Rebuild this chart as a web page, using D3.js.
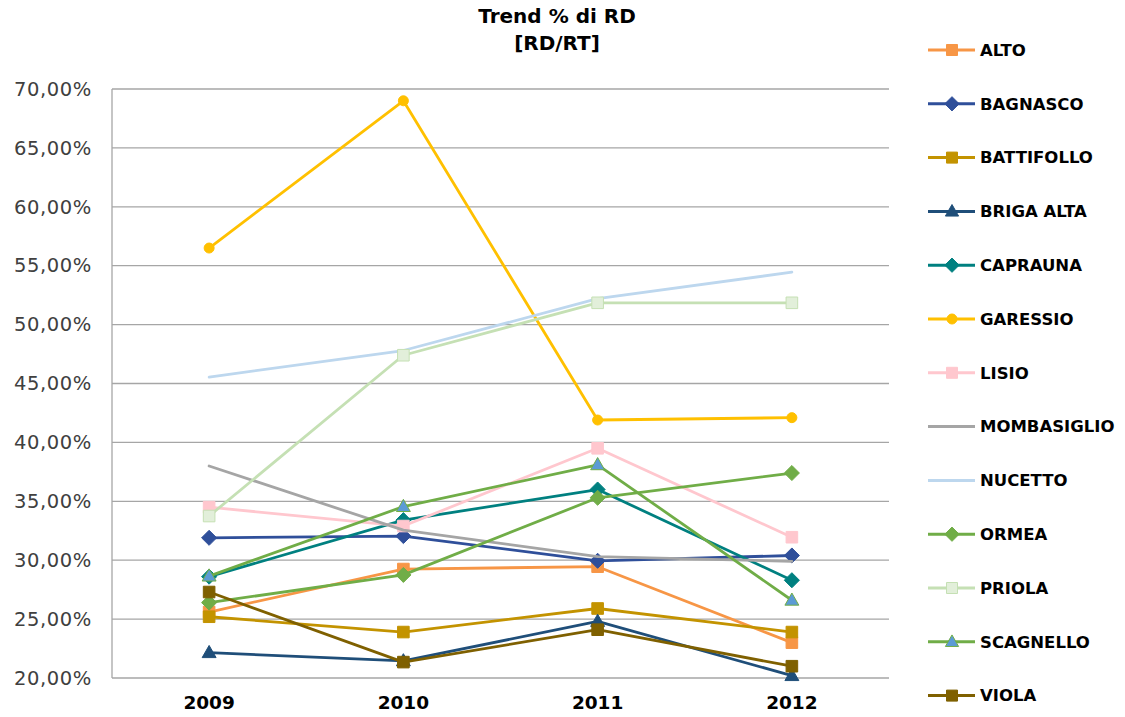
<!DOCTYPE html>
<html>
<head>
<meta charset="utf-8">
<script src="https://cdn.jsdelivr.net/npm/d3@7"></script>
<style>
  html, body { margin: 0; padding: 0; background: #ffffff; }
  svg { display: block; font-family: "DejaVu Sans", "Noto Sans", sans-serif; }
</style>
</head>
<body>
<svg id="chart" width="1125" height="717"></svg>
<script>
// Anni e valori percentuali (RD/RT) per comune
const years = ["2009", "2010", "2011", "2012"];
const yTicks = [20, 25, 30, 35, 40, 45, 50, 55, 60, 65, 70];

const alto        = [25.6, 29.25, 29.45, 23.0];
const bagnasco    = [31.9, 32.05, 29.95, 30.4];
const battifollo  = [25.2, 23.9, 25.9, 23.9];
const brigaAlta   = [22.15, 21.45, 24.8, 20.2];
const caprauna    = [28.6, 33.4, 36.0, 28.3];
const garessio    = [56.5, 69.0, 41.9, 42.1];
const lisio       = [34.5, 32.9, 39.5, 31.95];
const mombasiglio = [38.0, 32.55, 30.3, 29.9];
const nucetto     = [45.55, 47.8, 52.2, 54.45];
const ormea       = [26.4, 28.75, 35.3, 37.4];
const priola      = [33.75, 47.4, 51.85, 51.85];
const scagnello   = [28.65, 34.55, 38.1, 26.6];
const viola       = [27.3, 21.35, 24.1, 21.0];

const series = [
  { name: "ALTO",        values: alto,        stroke: "#F79646", marker: "square",   fill: "#F79646", mstroke: "#F79646" },
  { name: "BAGNASCO",    values: bagnasco,    stroke: "#2F4F9A", marker: "diamond",  fill: "#2F4F9A", mstroke: "#2F4F9A" },
  { name: "BATTIFOLLO",  values: battifollo,  stroke: "#C39300", marker: "square",   fill: "#C39300", mstroke: "#C39300" },
  { name: "BRIGA ALTA",  values: brigaAlta,   stroke: "#1F4E79", marker: "triangle", fill: "#1F4E79", mstroke: "#1F4E79" },
  { name: "CAPRAUNA",    values: caprauna,    stroke: "#008080", marker: "diamond",  fill: "#008080", mstroke: "#008080" },
  { name: "GARESSIO",    values: garessio,    stroke: "#FFC000", marker: "circle",   fill: "#FFC000", mstroke: "#FFC000" },
  { name: "LISIO",       values: lisio,       stroke: "#FFC7CE", marker: "square",   fill: "#FFC7CE", mstroke: "#FFC7CE" },
  { name: "MOMBASIGLIO", values: mombasiglio, stroke: "#A5A5A5", marker: "none" },
  { name: "NUCETTO",     values: nucetto,     stroke: "#BDD7EE", marker: "none" },
  { name: "ORMEA",       values: ormea,       stroke: "#70AD47", marker: "diamond",  fill: "#70AD47", mstroke: "#70AD47" },
  { name: "PRIOLA",      values: priola,      stroke: "#C5E0B4", marker: "square",   fill: "#E2EFDA", mstroke: "#C5E0B4" },
  { name: "SCAGNELLO",   values: scagnello,   stroke: "#70AD47", marker: "triangle", fill: "#5B9BD5", mstroke: "#70AD47" },
  { name: "VIOLA",       values: viola,       stroke: "#7F6000", marker: "square",   fill: "#7F6000", mstroke: "#7F6000" }
];

const svg = d3.select("#chart");
const plot = { left: 112, right: 889, top: 89, bottom: 678 };

const x = d3.scaleBand().domain(years).range([plot.left, plot.right]);
const y = d3.scaleLinear().domain([20, 70]).range([plot.bottom, plot.top]);
const cx = d => x(d) + x.bandwidth() / 2;

// Titolo
svg.append("text").attr("x", 557).attr("y", 23).attr("text-anchor", "middle")
  .attr("font-size", 20).attr("font-weight", "bold").attr("fill", "#000").text("Trend % di RD");
svg.append("text").attr("x", 557).attr("y", 50).attr("text-anchor", "middle")
  .attr("font-size", 20).attr("font-weight", "bold").attr("fill", "#000").text("[RD/RT]");

// Griglia orizzontale
svg.append("g").selectAll("line").data(yTicks).join("line")
  .attr("x1", plot.left).attr("x2", plot.right)
  .attr("y1", d => y(d)).attr("y2", d => y(d))
  .attr("stroke", "#A6A6A6").attr("stroke-width", 1.3);

// Asse verticale (bordo sinistro)
svg.append("line").attr("x1", plot.left).attr("x2", plot.left)
  .attr("y1", plot.top).attr("y2", plot.bottom)
  .attr("stroke", "#A6A6A6").attr("stroke-width", 1.3);

// Etichette asse Y
const yAxis = d3.axisLeft(y).tickValues(yTicks).tickSize(0).tickPadding(20)
  .tickFormat(d => d.toFixed(2).replace(".", ",") + "%");
const gy = svg.append("g").attr("transform", `translate(${plot.left},0)`).call(yAxis);
gy.select(".domain").remove();
gy.selectAll("text").attr("font-size", 19.5).attr("fill", "#404040")
  .attr("letter-spacing", "0.6px")
  .attr("font-family", "DejaVu Sans, sans-serif");

// Etichette asse X
const xAxis = d3.axisBottom(x).tickSize(0).tickPadding(18);
const gx = svg.append("g").attr("transform", `translate(0,${plot.bottom})`).call(xAxis);
gx.select(".domain").remove();
gx.selectAll("text").attr("font-size", 18.5).attr("font-weight", "bold").attr("fill", "#000")
  .attr("font-family", "DejaVu Sans, sans-serif");

// Simboli
function markerPath(type, size) {
  const s = size;
  if (type === "square") return `M${-s},${-s}H${s}V${s}H${-s}Z`;
  if (type === "diamond") return `M0,${-s * 1.3}L${s * 1.3},0L0,${s * 1.3}L${-s * 1.3},0Z`;
  if (type === "triangle") return `M0,${-s * 1.25}L${s * 1.2},${s * 0.85}L${-s * 1.2},${s * 0.85}Z`;
  if (type === "circle") return d3.symbol(d3.symbolCircle, Math.PI * s * s)();
  return null;
}

const line = d3.line().x((d, i) => cx(years[i])).y(d => y(d));

const gSeries = svg.append("g");
series.forEach(s => {
  const g = gSeries.append("g");
  g.append("path").datum(s.values).attr("d", line)
    .attr("fill", "none").attr("stroke", s.stroke).attr("stroke-width", 2.8)
    .attr("stroke-linejoin", "round").attr("stroke-linecap", "round");
  if (s.marker !== "none") {
    g.selectAll("path.m").data(s.values).join("path").attr("class", "m")
      .attr("transform", (d, i) => `translate(${cx(years[i])},${y(d)})`)
      .attr("d", markerPath(s.marker, s.marker === "circle" ? 5 : 5.8))
      .attr("fill", s.fill).attr("stroke", s.mstroke).attr("stroke-width", 1);
  }
});

// Legenda
const legend = svg.append("g");
const legendY0 = 50, legendStep = 53.8;
series.forEach((s, i) => {
  const ly = legendY0 + i * legendStep;
  const g = legend.append("g").attr("transform", `translate(0,${ly})`);
  g.append("line").attr("x1", 928).attr("x2", 975).attr("y1", 0).attr("y2", 0)
    .attr("stroke", s.stroke).attr("stroke-width", 3);
  if (s.marker !== "none") {
    g.append("path").attr("transform", "translate(952,0)")
      .attr("d", markerPath(s.marker, s.marker === "circle" ? 5 : 5.5))
      .attr("fill", s.fill).attr("stroke", s.mstroke).attr("stroke-width", 1);
  }
  g.append("text").attr("x", 980).attr("y", 0).attr("dy", "0.35em")
    .attr("font-size", 16.5).attr("font-weight", "bold").attr("fill", "#000")
    .attr("font-family", "DejaVu Sans, sans-serif").text(s.name);
});
</script>
</body>
</html>
